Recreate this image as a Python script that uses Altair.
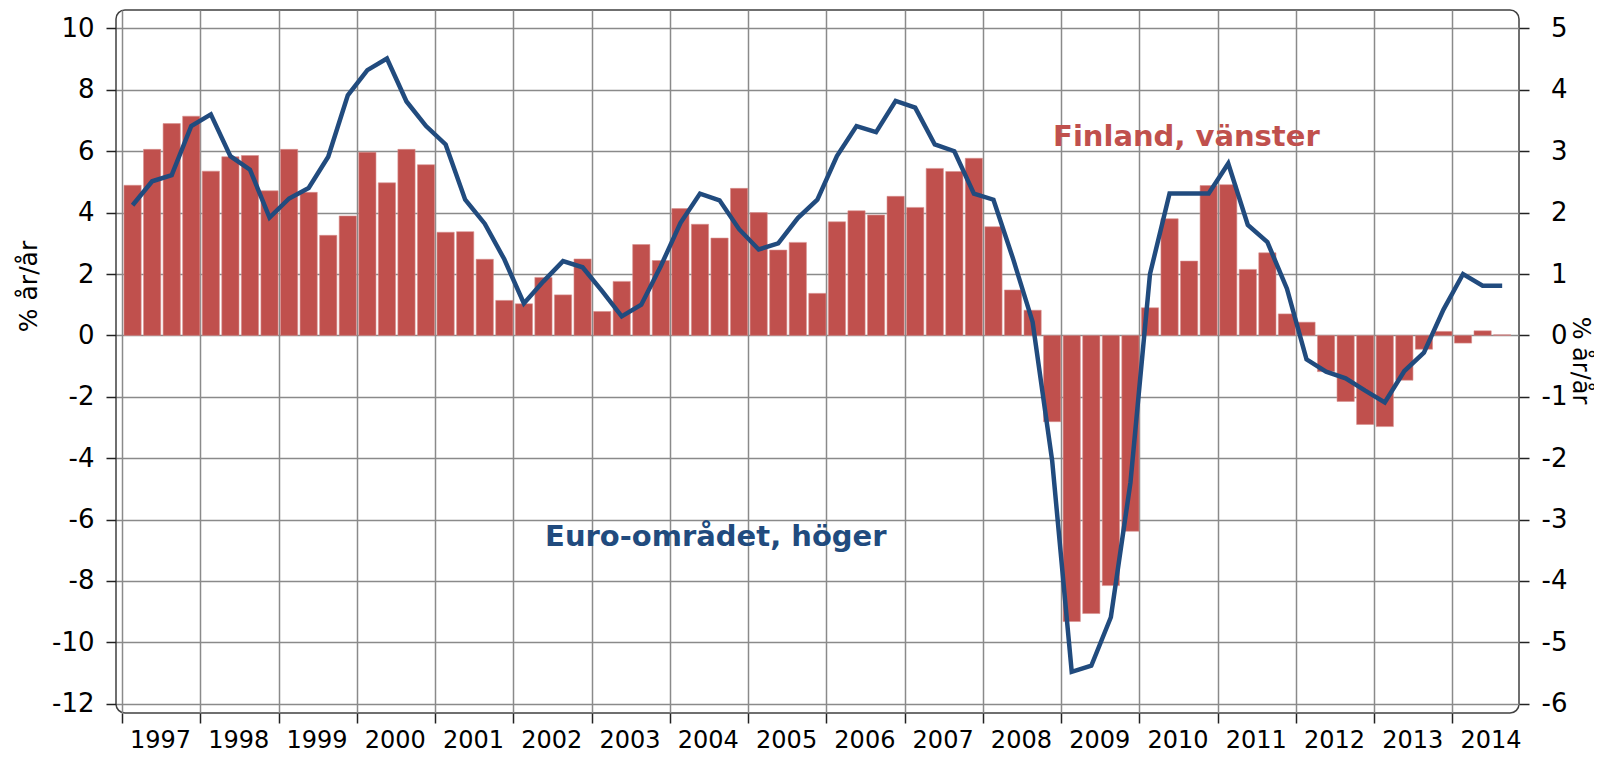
import altair as alt
import pandas as pd

# Finland GDP growth, % y/y (left axis), quarterly 1997Q1-2014Q3
finland = [4.89, 6.06, 6.90, 7.14,
           5.35, 5.82, 5.86, 4.71,
           6.06, 4.66, 3.26, 3.89,
           5.97, 4.97, 6.06, 5.56,
           3.36, 3.38, 2.48, 1.14,
           1.03, 1.89, 1.32, 2.49,
           0.78, 1.76, 2.96, 2.44,
           4.13, 3.62, 3.17, 4.79,
           4.00, 2.78, 3.03, 1.37,
           3.70, 4.06, 3.92, 4.53,
           4.17, 5.44, 5.34, 5.77,
           3.54, 1.48, 0.82, -2.81,
           -9.32, -9.06, -8.15, -6.38,
           0.90, 3.80, 2.42, 4.88,
           4.91, 2.15, 2.69, 0.70,
           0.43, -1.18, -2.15, -2.90,
           -2.97, -1.46, -0.45, 0.13,
           -0.25, 0.15, 0.02]

# Euro area GDP growth, % y/y (right axis)
euro = [2.12, 2.51, 2.61, 3.41,
        3.60, 2.92, 2.70, 1.92,
        2.23, 2.40, 2.91, 3.91,
        4.32, 4.51, 3.81, 3.41,
        3.11, 2.21, 1.82, 1.24,
        0.52, 0.88, 1.21, 1.11,
        0.72, 0.31, 0.50, 1.13,
        1.83, 2.31, 2.20, 1.73,
        1.40, 1.50, 1.91, 2.21,
        2.92, 3.41, 3.31, 3.82,
        3.71, 3.11, 3.00, 2.31,
        2.21, 1.25, 0.22, -2.04,
        -5.48, -5.38, -4.59, -2.40,
        1.00, 2.31, 2.31, 2.31,
        2.80, 1.80, 1.52, 0.76,
        -0.39, -0.59, -0.70, -0.90,
        -1.09, -0.58, -0.28, 0.42,
        1.00, 0.81, 0.81]

first_year = 1997
years = list(range(1997, 2015))
left_ticks = list(range(-12, 11, 2))
right_ticks = list(range(-6, 6, 1))

n = len(finland)
df = pd.DataFrame({
    "q": list(range(n)),
    "fin": finland,
    "euro": euro,
})
df["xs"] = df["q"] + 0.10
df["xe"] = df["q"] + 0.98
df["xm"] = df["q"] + 0.54
df["zero"] = 0.0

lbl_fin = pd.DataFrame({"x": [54.4], "y": [6.45], "t": ["Finland, vänster"]})
lbl_eur = pd.DataFrame({"x": [30.35], "y": [-3.29], "t": ["Euro-området, höger"]})

FONT = "DejaVu Sans"
RED = "#C0504D"
BLUE = "#214B7E"

xscale = alt.Scale(domain=[-0.307, 71.4], nice=False, zero=False)
xaxis = alt.Axis(values=[4 * i for i in range(len(years))],
                 labelExpr=f"toString({first_year} + datum.value/4)",
                 labelOffset=38, labelOverlap=False, labelFlush=False,
                 labelFontSize=24, labelPadding=5, tickSize=10, tickWidth=1.5,
                 grid=True, gridColor="#8a8a8a", gridWidth=1.5, title=None,
                 domain=False)

lscale = alt.Scale(domain=[-12.3, 10.6], nice=False, zero=False)
laxis = alt.Axis(values=left_ticks, orient="left", grid=True, gridColor="#8a8a8a",
                 gridWidth=1.5, labelFontSize=26, tickSize=10, tickWidth=1.5,
                 labelExpr="toString(datum.value)",
                 labelPadding=12, domain=False, title="% år/år", titleFontSize=25,
                 titleFontWeight="normal", titleAngle=-90, titleX=-88, titleY=276,
                 titleAlign="center", titleBaseline="middle")

rscale = alt.Scale(domain=[-6.15, 5.3], nice=False, zero=False)
raxis = alt.Axis(values=right_ticks, orient="right", grid=False, labelFontSize=26,
                 tickSize=10, tickWidth=1.5, labelPadding=38, labelAlign="right",
                 labelExpr="toString(datum.value)",
                 domain=False, title="% år/år", titleFontSize=24,
                 titleFontWeight="normal", titleAngle=90, titleX=60, titleY=350,
                 titleAlign="center", titleBaseline="middle")

bars = alt.Chart(df).mark_bar(color=RED, stroke="#D7908E", strokeWidth=0.6).encode(
    x=alt.X("xs:Q", scale=xscale, axis=xaxis),
    x2="xe:Q",
    y=alt.Y("fin:Q", scale=lscale, axis=laxis),
    y2="zero:Q",
)

fin_text = alt.Chart(lbl_fin).mark_text(
    font=FONT, fontSize=29, fontWeight="bold", color=RED, align="center", baseline="middle"
).encode(
    x=alt.X("x:Q", scale=xscale, axis=xaxis),
    y=alt.Y("y:Q", scale=lscale, axis=laxis),
    text="t:N",
)

line = alt.Chart(df).mark_line(color=BLUE, strokeWidth=4.5).encode(
    x=alt.X("xm:Q", scale=xscale, axis=xaxis),
    y=alt.Y("euro:Q", scale=rscale, axis=raxis),
)

eur_text = alt.Chart(lbl_eur).mark_text(
    font=FONT, fontSize=29, fontWeight="bold", color=BLUE, align="center", baseline="middle"
).encode(
    x=alt.X("x:Q", scale=xscale, axis=xaxis),
    y=alt.Y("y:Q", scale=rscale, axis=raxis),
    text="t:N",
)

left = alt.layer(bars, fin_text)
right = alt.layer(line, eur_text)

chart = alt.layer(left, right).resolve_scale(y="independent").properties(
    width=1403, height=703,
    autosize="none",
    padding={"left": 108, "top": 2, "right": 75, "bottom": 47},
).configure_view(
    stroke="#404040", strokeWidth=1.5, cornerRadius=9
).configure_axis(
    labelFont=FONT, titleFont=FONT, labelColor="#000000", titleColor="#000000",
    tickColor="#222222"
)

chart.save("out.html", embed_options={"renderer": "svg", "actions": False})
